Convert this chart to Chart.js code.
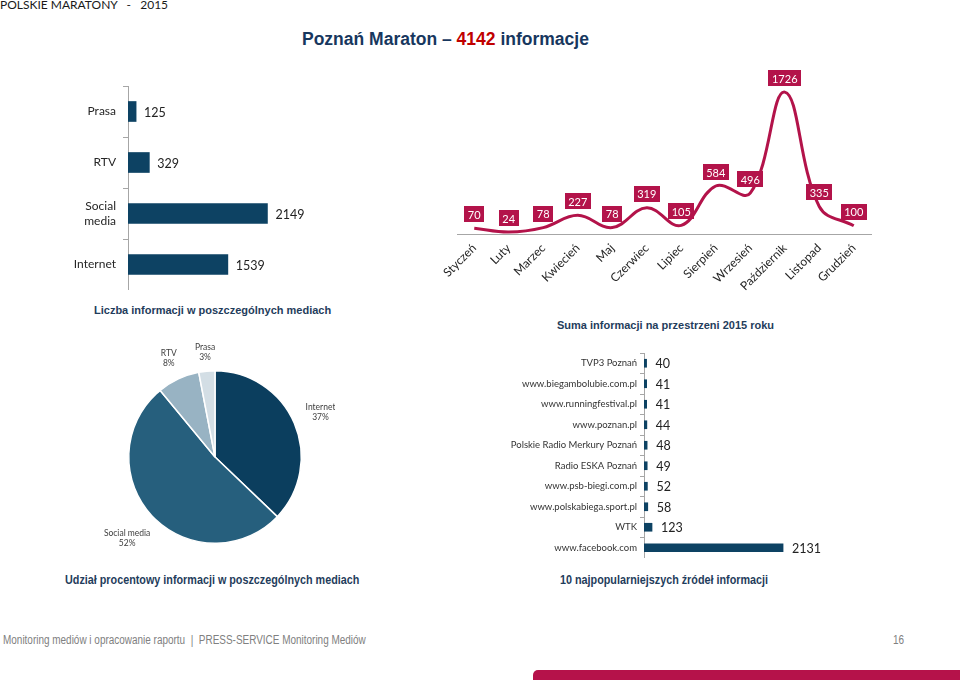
<!DOCTYPE html>
<html><head><meta charset="utf-8">
<script src="https://cdn.jsdelivr.net/npm/chart.js@4.4.1/dist/chart.umd.min.js"></script>
<style>
html,body{margin:0;padding:0;background:#fff;width:960px;height:680px;overflow:hidden;position:relative;font-family:Lato,sans-serif}
.t{position:absolute;white-space:pre;line-height:1}
.cap{font-family:"Liberation Sans",Arial,sans-serif;font-weight:bold;color:#1F3D5C}
.nar{transform:scaleX(0.83);transform-origin:0 0}
canvas{position:absolute}
#bar{position:absolute;left:533px;top:670px;width:427px;height:10px;background:#B5124A;border-top-left-radius:5px}
</style></head><body>
<div class="t" style="left:0;top:-1px;font-size:12px;color:#1a1a1a;font-family:Lato,sans-serif">POLSKIE MARATONY   -   2015</div>
<div class="t cap" style="left:302px;top:31px;font-size:17.5px;color:#17375E">Poznań Maraton – <span style="color:#C00000">4142</span> informacje</div>
<div class="t cap" style="left:94px;top:305px;font-size:11px">Liczba informacji w poszczególnych mediach</div>
<div class="t cap" style="left:557px;top:320px;font-size:11px">Suma informacji na przestrzeni 2015 roku</div>
<div class="t cap nar" style="left:65px;top:573px;font-size:13px">Udział procentowy informacji w poszczególnych mediach</div>
<div class="t cap nar" style="left:560px;top:573px;font-size:13px">10 najpopularniejszych źródeł informacji</div>
<div class="t nar" style="left:3px;top:634px;font-size:12px;color:#808080;font-family:'Liberation Sans',Arial,sans-serif">Monitoring mediów i opracowanie raportu  |  PRESS-SERVICE Monitoring Mediów</div>
<div class="t nar" style="left:893px;top:634px;font-size:12px;color:#808080;font-family:'Liberation Sans',Arial,sans-serif">16</div>
<div id="bar"></div>

<canvas id="c1" width="400" height="204" style="left:20px;top:86px"></canvas>
<canvas id="c2" width="474" height="240" style="left:417px;top:60px"></canvas>
<canvas id="c3" width="240" height="240" style="left:95px;top:337px"></canvas>
<canvas id="c4" width="330" height="205" style="left:500px;top:353px"></canvas>

<script>
const mediaLabels = ['Prasa', 'RTV', 'Social media', 'Internet'];
const mediaValues = [125, 329, 2149, 1539];

const months = ['Styczeń', 'Luty', 'Marzec', 'Kwiecień', 'Maj', 'Czerwiec', 'Lipiec', 'Sierpień', 'Wrzesień', 'Październik', 'Listopad', 'Grudzień'];
const monthValues = [70, 24, 78, 227, 78, 319, 105, 584, 496, 1726, 335, 100];

const pieLabels = ['Internet', 'Social media', 'RTV', 'Prasa'];
const pieValues = [1539, 2149, 329, 125];

const sourceLabels = ['TVP3 Poznań', 'www.biegambolubie.com.pl', 'www.runningfestival.pl', 'www.poznan.pl', 'Polskie Radio Merkury Poznań', 'Radio ESKA Poznań', 'www.psb-biegi.com.pl', 'www.polskabiega.sport.pl', 'WTK', 'www.facebook.com'];
const sourceValues = [40, 41, 41, 44, 48, 49, 52, 58, 123, 2131];

const FONT = 'Lato, "Open Sans", sans-serif';
const NAVY = '#0D4263';
const RED = '#B3134A';

const valueLabels = {
  id: 'valueLabels',
  afterDatasetsDraw(chart, args, opts) {
    const ctx = chart.ctx, meta = chart.getDatasetMeta(0), data = chart.data.datasets[0].data;
    ctx.save();
    ctx.font = opts.font; ctx.fillStyle = opts.color;
    ctx.textAlign = 'left'; ctx.textBaseline = 'middle';
    meta.data.forEach((b, i) => ctx.fillText(String(data[i]), b.x + opts.offset, b.y + 1));
    ctx.restore();
  }
};

const boxLabels = {
  id: 'boxLabels',
  afterDatasetsDraw(chart, args, opts) {
    const ctx = chart.ctx, meta = chart.getDatasetMeta(0), data = chart.data.datasets[0].data;
    ctx.save();
    ctx.font = opts.font; ctx.textAlign = 'center'; ctx.textBaseline = 'middle';
    meta.data.forEach((p, i) => {
      const s = String(data[i]);
      const w = ctx.measureText(s).width + 7;
      const cy = p.y - opts.offset;
      ctx.fillStyle = opts.bg;
      ctx.fillRect(Math.round(p.x - w / 2), Math.round(cy - 8), Math.round(w), 16);
      ctx.fillStyle = '#fff';
      ctx.fillText(s, p.x, cy + 1);
    });
    ctx.restore();
  }
};

const pieLabelPlugin = {
  id: 'pieLabels',
  afterDatasetsDraw(chart, args, opts) {
    const ctx = chart.ctx, meta = chart.getDatasetMeta(0), data = chart.data.datasets[0].data;
    const total = data.reduce((a, b) => a + b, 0);
    ctx.save();
    ctx.font = opts.font; ctx.fillStyle = opts.color; ctx.textAlign = 'center'; ctx.textBaseline = 'middle';
    meta.data.forEach((arc, i) => {
      const { startAngle, endAngle, outerRadius, x, y } = arc.getProps(['startAngle', 'endAngle', 'outerRadius', 'x', 'y'], true);
      const a = (startAngle + endAngle) / 2;
      const r = outerRadius * opts.factors[i];
      const lx = x + Math.cos(a) * r, ly = y + Math.sin(a) * r;
      ctx.fillText(chart.data.labels[i], lx, ly - 5);
      ctx.fillText(Math.round(data[i] / total * 100) + '%', lx, ly + 5);
    });
    ctx.restore();
  }
};

const noVPad = w => s => { s.width = w; s.paddingTop = 0; s.paddingBottom = 0; };

// Chart 1: media totals
new Chart(document.getElementById('c1'), {
  type: 'bar',
  data: { labels: mediaLabels, datasets: [{ data: mediaValues, backgroundColor: NAVY, barThickness: 20 }] },
  options: {
    indexAxis: 'y', responsive: false, animation: false,
    layout: { padding: 0 },
    plugins: { legend: { display: false }, tooltip: { enabled: false },
      valueLabels: { font: '12.5px ' + FONT, color: '#222', offset: 8 } },
    scales: {
      x: { display: false, min: 0, max: 4500 },
      y: {
        afterFit: noVPad(108),
        grid: { drawOnChartArea: false, tickLength: 5, color: '#A6A6A6' },
        border: { color: '#A6A6A6' },
        ticks: { padding: 7, color: '#262626', font: { family: FONT, size: 12 },
          callback: (v, i) => mediaLabels[i].includes(' ') ? mediaLabels[i].split(' ') : mediaLabels[i] }
      }
    }
  },
  plugins: [valueLabels]
});

// Chart 2: monthly line
new Chart(document.getElementById('c2'), {
  type: 'line',
  data: { labels: months, datasets: [{ data: monthValues, borderColor: RED, borderWidth: 3, tension: 0.4, pointRadius: 0, fill: false, clip: false }] },
  options: {
    responsive: false, animation: false,
    layout: { padding: { left: 40, right: 20, top: 3, bottom: 0 } },
    plugins: { legend: { display: false }, tooltip: { enabled: false },
      boxLabels: { font: '11px ' + FONT, bg: RED, offset: 14 } },
    scales: {
      x: {
        offset: true,
        afterFit: s => { s.height = 66; },
        grid: { display: false, drawTicks: false },
        border: { display: true, color: '#A6A6A6' },
        ticks: { autoSkip: false, minRotation: 45, maxRotation: 45, padding: 7, color: '#262626', font: { family: FONT, size: 12 } }
      },
      y: { display: false, min: 0, max: 2080 }
    }
  },
  plugins: [boxLabels]
});

// Chart 3: pie shares
new Chart(document.getElementById('c3'), {
  type: 'pie',
  data: { labels: pieLabels, datasets: [{ data: pieValues, backgroundColor: ['#0B3E5E', '#265F7D', '#98B3C3', '#D3DEE5'], borderColor: '#fff', borderWidth: 1.5 }] },
  options: {
    responsive: false, animation: false,
    layout: { padding: 33 },
    plugins: { legend: { display: false }, tooltip: { enabled: false },
      pieLabels: { font: '8.5px ' + FONT, color: '#404040', factors: [1.33, 1.39, 1.26, 1.22] } }
  },
  plugins: [pieLabelPlugin]
});

// Chart 4: top sources
new Chart(document.getElementById('c4'), {
  type: 'bar',
  data: { labels: sourceLabels, datasets: [{ data: sourceValues, backgroundColor: NAVY, barThickness: 8 }] },
  options: {
    indexAxis: 'y', responsive: false, animation: false,
    layout: { padding: 0 },
    plugins: { legend: { display: false }, tooltip: { enabled: false },
      valueLabels: { font: '12.5px ' + FONT, color: '#222', offset: 9 } },
    scales: {
      x: { display: false, min: 0, max: 2850 },
      y: {
        afterFit: noVPad(144),
        grid: { drawOnChartArea: false, tickLength: 4, color: '#A6A6A6' },
        border: { color: '#A6A6A6' },
        ticks: { padding: 3, color: '#333', font: { family: FONT, size: 9.5 } }
      }
    }
  },
  plugins: [valueLabels]
});
</script>
</body></html>
